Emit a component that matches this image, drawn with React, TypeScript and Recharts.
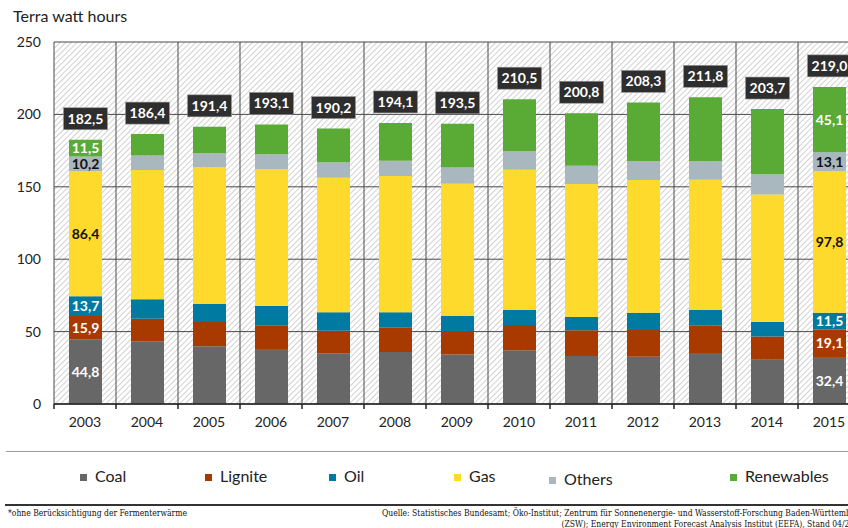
import {
  BarChart,
  Bar,
  XAxis,
  YAxis,
  CartesianGrid,
  LabelList,
  Legend,
} from 'recharts';

// Net electricity generation by source, TWh
const years = ['2003', '2004', '2005', '2006', '2007', '2008', '2009', '2010', '2011', '2012', '2013', '2014', '2015'];
const coal = [44.8, 43.3, 39.8, 38.0, 35.0, 35.9, 34.1, 37.1, 33.1, 32.7, 35.2, 30.6, 32.4];
const lignite = [15.9, 15.6, 16.8, 16.3, 15.6, 16.8, 16.3, 17.5, 17.8, 18.4, 18.9, 16.1, 19.1];
const oil = [13.7, 13.4, 12.5, 13.4, 12.7, 10.6, 10.6, 10.5, 9.2, 12.0, 11.0, 9.9, 11.5];
const gas = [86.4, 89.3, 94.4, 94.6, 93.0, 94.2, 91.1, 96.7, 91.8, 91.6, 89.8, 88.0, 97.8];
const others = [10.2, 10.1, 9.6, 10.1, 10.6, 10.5, 11.3, 12.9, 12.7, 13.1, 12.7, 14.0, 13.1];
const renewables = [11.5, 14.7, 18.3, 20.7, 23.3, 26.1, 30.1, 35.8, 36.2, 40.5, 44.2, 45.1, 45.1];
const totals = [182.5, 186.4, 191.4, 193.1, 190.2, 194.1, 193.5, 210.5, 200.8, 208.3, 211.8, 203.7, 219.0];
const yTicks = [0, 50, 100, 150, 200, 250];
// only first and last year show segment values
const labelledYears = [0, 12];

const series = [
  { key: 'coal', name: 'Coal', color: '#676767', text: '#fff' },
  { key: 'lignite', name: 'Lignite', color: '#a83a00', text: '#fff' },
  { key: 'oil', name: 'Oil', color: '#007aa0', text: '#fff' },
  { key: 'gas', name: 'Gas', color: '#fdda2c', text: '#111' },
  { key: 'others', name: 'Others', color: '#a9b7bf', text: '#111' },
  { key: 'renewables', name: 'Renewables', color: '#5aab36', text: '#fff' },
];

const data = years.map((year, i) => ({
  year,
  coal: coal[i],
  lignite: lignite[i],
  oil: oil[i],
  gas: gas[i],
  others: others[i],
  renewables: renewables[i],
  total: totals[i],
}));

const fmt = (v: number) => Number(v).toFixed(1).replace('.', ',');

const FONT = 'Lato, "Liberation Sans", sans-serif';
const STEP = 62;
const legendX = [80, 205, 329, 454, 549, 730];

function YearTick({ x, y, payload }: any) {
  const left = x - STEP / 2;
  return (
    <g>
      <line x1={left} x2={left} y1={y - 13} y2={y - 8} stroke="#222" strokeWidth={1.5} />
      <text x={x} y={y} dy="0.71em" textAnchor="middle" fontSize={14} fill="#222">
        {payload.value}
      </text>
    </g>
  );
}

function TotalBox({ x, y, width, value }: any) {
  const cx = x + width / 2;
  const cy = y - 21;
  return (
    <g>
      <rect x={cx - 22} y={cy - 11} width={44} height={22} fill="#2e2e2e" stroke="#9a9a9a" strokeWidth={0.6} />
      <text x={cx} y={cy} dy="0.36em" textAnchor="middle" fontSize={14} fontWeight={700} fill="#fff">
        {fmt(value)}
      </text>
    </g>
  );
}

function segmentLabel(color: string) {
  return ({ x, y, width, height, value, index }: any) => {
    if (!labelledYears.includes(index)) return null;
    return (
      <text
        x={x + width / 2}
        y={y + height / 2}
        dy="0.36em"
        textAnchor="middle"
        fontSize={14}
        fontWeight={700}
        fill={color}
      >
        {fmt(value)}
      </text>
    );
  };
}

function LegendRow() {
  return (
    <div style={{ position: 'relative', width: 848, height: 24, fontFamily: FONT }}>
      {series.map((s, i) => (
        <div
          key={s.key}
          style={{
            position: 'absolute',
            left: legendX[i],
            top: s.key === 'others' ? 3 : 0,
            display: 'flex',
            alignItems: 'center',
            fontSize: 16,
            color: '#222',
            whiteSpace: 'nowrap',
          }}
        >
          <span style={{ width: 7, height: 7, background: s.color, display: 'inline-block', marginRight: 8, marginTop: 3 }} />
          {s.name}
        </div>
      ))}
    </div>
  );
}

export default function App() {
  return (
    <div
      style={{
        position: 'absolute',
        left: 0,
        top: 0,
        width: 848,
        height: 528,
        overflow: 'hidden',
        background: '#fff',
        fontFamily: FONT,
      }}
    >
      <svg width={0} height={0} style={{ position: 'absolute' }}>
        <defs>
          <pattern id="hatch" width={4} height={4} patternUnits="userSpaceOnUse" patternTransform="rotate(45)">
            <rect width={4} height={4} fill="#fff" />
            <line x1={0} y1={0} x2={0} y2={4} stroke="#c6c6c6" strokeWidth={1.6} />
          </pattern>
        </defs>
      </svg>

      <div style={{ position: 'absolute', left: 13, top: 6, fontSize: 16, color: '#222' }}>Terra watt hours</div>

      <BarChart
        width={870}
        height={528}
        data={data}
        margin={{ top: 42, right: 10, bottom: 94, left: 0 }}
      >
        <CartesianGrid
          fill="url(#hatch)"
          fillOpacity={1}
          stroke="#4a4a4a"
          strokeWidth={1}
          verticalCoordinatesGenerator={({ offset }: any) =>
            years.map((_, i) => offset.left + (offset.width / years.length) * i).concat(offset.left + offset.width)
          }
        />
        <XAxis
          dataKey="year"
          height={30}
          tickLine={false}
          tickSize={0}
          tickMargin={13}
          axisLine={{ stroke: '#222', strokeWidth: 1.5 }}
          tick={<YearTick />}
          interval={0}
        />
        <YAxis
          width={54}
          domain={[0, 250]}
          ticks={yTicks}
          axisLine={false}
          tickLine={false}
          tickSize={0}
          tickMargin={13}
          tick={{ fontSize: 14, fill: '#222' }}
        />
        <Legend
          layout="horizontal"
          verticalAlign="middle"
          align="center"
          wrapperStyle={{ left: 0, top: 466, width: 848 }}
          content={<LegendRow />}
        />
        {series.map((s) => (
          <Bar
            key={s.key}
            dataKey={s.key}
            name={s.name}
            stackId="a"
            fill={s.color}
            barSize={33}
            isAnimationActive={false}
          >
            <LabelList dataKey={s.key} content={segmentLabel(s.text)} />
            {s.key === 'renewables' && <LabelList dataKey="total" content={<TotalBox />} />}
          </Bar>
        ))}
      </BarChart>

      <div style={{ position: 'absolute', left: 6, right: 0, top: 451, height: 1, background: '#9c9c9c' }} />
      <div style={{ position: 'absolute', left: 5, right: 0, top: 504, height: 2, background: '#333' }} />
      <div
        style={{
          position: 'absolute',
          left: 8,
          top: 508,
          fontFamily: '"DejaVu Serif Condensed", "Liberation Serif", serif',
          fontSize: 8.5,
          color: '#111',
          whiteSpace: 'nowrap',
        }}
      >
        *ohne Berücksichtigung der Fermenterwärme
      </div>
      <div
        style={{
          position: 'absolute',
          right: -16,
          top: 508,
          fontFamily: '"DejaVu Serif Condensed", "Liberation Serif", serif',
          fontSize: 8.5,
          lineHeight: '11px',
          color: '#111',
          whiteSpace: 'nowrap',
          textAlign: 'right',
        }}
      >
        Quelle: Statistisches Bundesamt; Öko-Institut; Zentrum für Sonnenenergie- und Wasserstoff-Forschung Baden-Württemberg
        <br />
        (ZSW); Energy Environment Forecast Analysis Institut (EEFA), Stand 04/2016
      </div>
    </div>
  );
}
